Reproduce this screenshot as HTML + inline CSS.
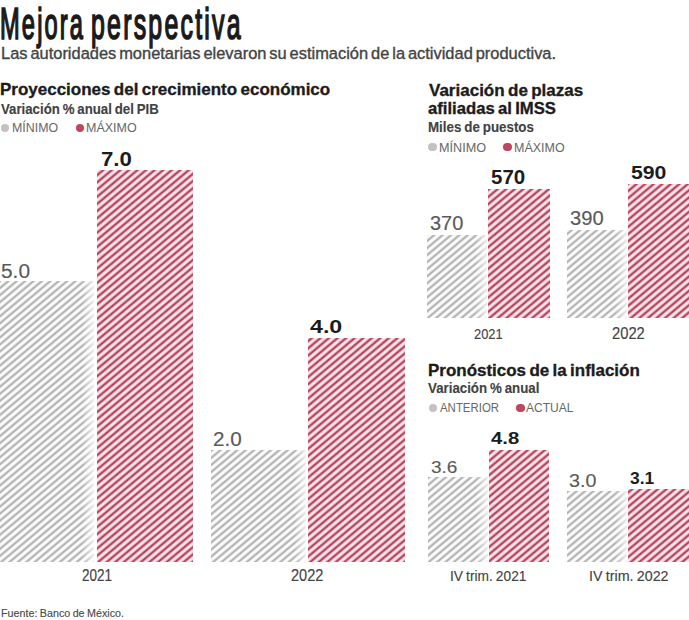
<!DOCTYPE html>
<html><head><meta charset="utf-8"><style>
html,body{margin:0;padding:0;background:#fff;}
body{width:689px;height:620px;position:relative;overflow:hidden;font-family:"Liberation Sans",sans-serif;}
.t{position:absolute;white-space:nowrap;transform-origin:0 0;}
.bar{position:absolute;}
.g{background:linear-gradient(to right,rgba(255,255,255,0) 0,rgba(255,255,255,0) calc(100% - 12px),rgba(255,255,255,0.75) 100%),repeating-linear-gradient(-40deg,#b0b0b0 0px,#b0b0b0 0.50px,#fbfbfb 2.20px,#fbfbfb 3.80px,#b0b0b0 5.4px);}
.r{background:repeating-linear-gradient(-40deg,#b4455f 0px,#b4455f 0.80px,#fde3e8 2.40px,#fde3e8 4.00px,#b4455f 5.5px);}
.dot{position:absolute;border-radius:50%;}
</style></head>
<body>
<div class="t" style="left:0.38px;top:2.50px;font-size:43.48px;line-height:43.48px;font-weight:normal;color:#1a1a1a;transform:scaleX(0.5443);letter-spacing:0.09em;-webkit-text-stroke:0.04em #1a1a1a;">Mejora</div>
<div class="t" style="left:90.68px;top:2.50px;font-size:43.48px;line-height:43.48px;font-weight:normal;color:#1a1a1a;transform:scaleX(0.5721);letter-spacing:0.09em;-webkit-text-stroke:0.04em #1a1a1a;">perspectiva</div>
<div class="t" style="left:0.85px;top:45.55px;font-size:15.65px;line-height:15.65px;font-weight:normal;color:#444;transform:scaleX(1.0504);word-spacing:-0.1em;-webkit-text-stroke:0.022em #444;">Las autoridades monetarias elevaron su estimación de la actividad productiva.</div>
<div class="t" style="left:0.06px;top:82.35px;font-size:15.65px;line-height:15.65px;font-weight:bold;color:#1c1c1c;transform:scaleX(1.0863);word-spacing:-0.08em;-webkit-text-stroke:0.02em #1c1c1c;">Proyecciones del crecimiento económico</div>
<div class="t" style="left:0.73px;top:102.72px;font-size:13.91px;line-height:13.91px;font-weight:bold;color:#424242;transform:scaleX(0.9507);word-spacing:-0.06em;-webkit-text-stroke:0.008em #3a3a3a;">Variación % anual del PIB</div>
<div class="dot" style="left:0.5999999999999996px;top:123.8px;width:8.4px;height:8.4px;background:#c2c2c2"></div>
<div class="t" style="left:12.01px;top:122.43px;font-size:12.61px;line-height:12.61px;font-weight:normal;color:#686868;transform:scaleX(0.9817);">MÍNIMO</div>
<div class="dot" style="left:75.6px;top:123.8px;width:8.4px;height:8.4px;background:#bf4561"></div>
<div class="t" style="left:86.00px;top:122.43px;font-size:12.61px;line-height:12.61px;font-weight:normal;color:#686868;transform:scaleX(0.9901);">MÁXIMO</div>
<div class="bar g" style="left:-3px;top:281px;width:97px;height:281px"></div>
<div class="bar r" style="left:96.5px;top:169.5px;width:96.5px;height:392.5px"></div>
<div class="bar g" style="left:211px;top:450px;width:95px;height:112px"></div>
<div class="bar r" style="left:308px;top:338px;width:97px;height:224px"></div>
<div class="t" style="left:100.50px;top:149.17px;font-size:20.00px;line-height:20.00px;font-weight:bold;color:#1c1c1c;transform:scaleX(1.1111);">7.0</div>
<div class="t" style="left:1.46px;top:261.76px;font-size:19.42px;line-height:19.42px;font-weight:normal;color:#5a5a5a;transform:scaleX(1.0768);-webkit-text-stroke:0.008em #5a5a5a;">5.0</div>
<div class="t" style="left:309.65px;top:318.26px;font-size:18.12px;line-height:18.12px;font-weight:bold;color:#1c1c1c;transform:scaleX(1.2818);">4.0</div>
<div class="t" style="left:212.97px;top:428.92px;font-size:20.29px;line-height:20.29px;font-weight:normal;color:#5a5a5a;transform:scaleX(1.0197);-webkit-text-stroke:0.008em #5a5a5a;">2.0</div>
<div class="t" style="left:81.59px;top:567.93px;font-size:15.80px;line-height:15.80px;font-weight:normal;color:#444;transform:scaleX(0.8539);-webkit-text-stroke:0.01em #444;">2021</div>
<div class="t" style="left:291.35px;top:568.11px;font-size:15.94px;line-height:15.94px;font-weight:normal;color:#444;transform:scaleX(0.9108);-webkit-text-stroke:0.01em #444;">2022</div>
<div class="t" style="left:0.79px;top:608.39px;font-size:11.59px;line-height:11.59px;font-weight:normal;color:#4a4a4a;transform:scaleX(0.9262);word-spacing:-0.05em;-webkit-text-stroke:0.012em #4a4a4a;">Fuente: Banco de México.</div>
<div class="t" style="left:428.89px;top:82.55px;font-size:15.65px;line-height:15.65px;font-weight:bold;color:#1c1c1c;transform:scaleX(1.0877);word-spacing:-0.08em;-webkit-text-stroke:0.02em #1c1c1c;">Variación de plazas</div>
<div class="t" style="left:428.47px;top:100.85px;font-size:15.65px;line-height:15.65px;font-weight:bold;color:#1c1c1c;transform:scaleX(1.0658);word-spacing:-0.08em;-webkit-text-stroke:0.02em #1c1c1c;">afiliadas al IMSS</div>
<div class="t" style="left:428.33px;top:121.02px;font-size:13.91px;line-height:13.91px;font-weight:bold;color:#424242;transform:scaleX(0.9596);word-spacing:-0.06em;-webkit-text-stroke:0.008em #3a3a3a;">Miles de puestos</div>
<div class="dot" style="left:428.3px;top:142.5px;width:8.6px;height:8.6px;background:#c2c2c2"></div>
<div class="t" style="left:439.49px;top:141.93px;font-size:12.61px;line-height:12.61px;font-weight:normal;color:#686868;transform:scaleX(1.0038);">MÍNIMO</div>
<div class="dot" style="left:503.2px;top:142.5px;width:8.6px;height:8.6px;background:#bf4561"></div>
<div class="t" style="left:513.50px;top:141.93px;font-size:12.61px;line-height:12.61px;font-weight:normal;color:#686868;transform:scaleX(0.9901);">MÁXIMO</div>
<div class="bar g" style="left:427px;top:235px;width:60px;height:83px"></div>
<div class="bar r" style="left:488px;top:189px;width:62px;height:129px"></div>
<div class="bar g" style="left:567px;top:230px;width:60px;height:88px"></div>
<div class="bar r" style="left:628px;top:184px;width:72px;height:134px"></div>
<div class="t" style="left:429.90px;top:212.88px;font-size:20.58px;line-height:20.58px;font-weight:normal;color:#5a5a5a;transform:scaleX(0.9718);-webkit-text-stroke:0.008em #5a5a5a;">370</div>
<div class="t" style="left:491.38px;top:168.36px;font-size:19.42px;line-height:19.42px;font-weight:bold;color:#1c1c1c;transform:scaleX(1.0556);">570</div>
<div class="t" style="left:569.79px;top:208.22px;font-size:20.29px;line-height:20.29px;font-weight:normal;color:#5a5a5a;transform:scaleX(0.9950);-webkit-text-stroke:0.008em #5a5a5a;">390</div>
<div class="t" style="left:630.76px;top:163.90px;font-size:18.55px;line-height:18.55px;font-weight:bold;color:#1c1c1c;transform:scaleX(1.1455);">590</div>
<div class="t" style="left:473.92px;top:325.72px;font-size:15.22px;line-height:15.22px;font-weight:normal;color:#444;transform:scaleX(0.8464);-webkit-text-stroke:0.01em #444;">2021</div>
<div class="t" style="left:611.84px;top:325.51px;font-size:15.94px;line-height:15.94px;font-weight:normal;color:#444;transform:scaleX(0.9255);-webkit-text-stroke:0.01em #444;">2022</div>
<div class="t" style="left:427.67px;top:362.75px;font-size:15.65px;line-height:15.65px;font-weight:bold;color:#1c1c1c;transform:scaleX(1.0847);word-spacing:-0.08em;-webkit-text-stroke:0.02em #1c1c1c;">Pronósticos de la inflación</div>
<div class="t" style="left:428.43px;top:381.72px;font-size:13.91px;line-height:13.91px;font-weight:bold;color:#424242;transform:scaleX(0.9557);word-spacing:-0.06em;-webkit-text-stroke:0.008em #3a3a3a;">Variación % anual</div>
<div class="dot" style="left:428.5px;top:403.8px;width:8.4px;height:8.4px;background:#c2c2c2"></div>
<div class="t" style="left:440.24px;top:401.93px;font-size:12.61px;line-height:12.61px;font-weight:normal;color:#686868;transform:scaleX(0.9064);">ANTERIOR</div>
<div class="dot" style="left:516.1999999999999px;top:403.8px;width:8.4px;height:8.4px;background:#bf4561"></div>
<div class="t" style="left:525.94px;top:401.93px;font-size:12.61px;line-height:12.61px;font-weight:normal;color:#686868;transform:scaleX(0.9546);">ACTUAL</div>
<div class="bar g" style="left:428px;top:477px;width:60px;height:85px"></div>
<div class="bar r" style="left:489px;top:450px;width:60px;height:112px"></div>
<div class="bar g" style="left:567px;top:491px;width:60px;height:71px"></div>
<div class="bar r" style="left:628px;top:489px;width:72px;height:73px"></div>
<div class="t" style="left:431.13px;top:459.61px;font-size:15.94px;line-height:15.94px;font-weight:normal;color:#5a5a5a;transform:scaleX(1.1925);-webkit-text-stroke:0.008em #5a5a5a;">3.6</div>
<div class="t" style="left:491.30px;top:431.11px;font-size:15.94px;line-height:15.94px;font-weight:bold;color:#1c1c1c;transform:scaleX(1.2732);">4.8</div>
<div class="t" style="left:569.31px;top:471.56px;font-size:18.12px;line-height:18.12px;font-weight:normal;color:#5a5a5a;transform:scaleX(1.0873);-webkit-text-stroke:0.008em #5a5a5a;">3.0</div>
<div class="t" style="left:630.26px;top:470.04px;font-size:16.38px;line-height:16.38px;font-weight:bold;color:#1c1c1c;transform:scaleX(1.0657);">3.1</div>
<div class="t" style="left:450.16px;top:568.44px;font-size:15.07px;line-height:15.07px;font-weight:normal;color:#444;transform:scaleX(0.9107);-webkit-text-stroke:0.01em #444;word-spacing:-0.05em;">IV trim. 2021</div>
<div class="t" style="left:588.71px;top:568.24px;font-size:15.07px;line-height:15.07px;font-weight:normal;color:#444;transform:scaleX(0.9485);-webkit-text-stroke:0.01em #444;word-spacing:-0.05em;">IV trim. 2022</div>
</body></html>
